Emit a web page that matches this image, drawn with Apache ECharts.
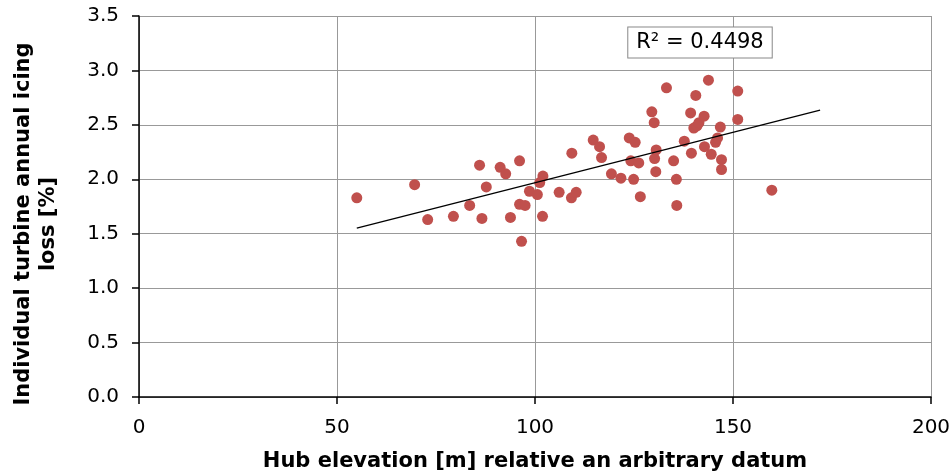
<!DOCTYPE html>
<html>
<head>
<meta charset="utf-8">
<script src="https://cdn.jsdelivr.net/npm/echarts@6/dist/echarts.min.js"></script>
<style>
  html, body { margin: 0; padding: 0; background: #fff; }
  #chart { width: 951px; height: 474px; }
</style>
</head>
<body>
<div id="chart"></div>
<script>
// hub elevation [m] and icing loss [%]
const hubElevation = [
  55.0, 69.6, 72.9, 79.4, 83.5, 86.0, 86.6, 87.7, 91.2, 92.6,
  93.8, 96.1, 96.1, 97.5, 96.6, 98.6, 100.6, 101.9, 102.0, 101.2,
  106.1, 109.2, 110.4, 109.3, 114.7, 116.3, 116.8, 119.3, 121.7, 123.8,
  125.3, 124.2, 126.2, 124.9, 126.6, 130.6, 130.2, 130.5, 129.5, 130.1,
  133.2, 135.0, 135.7, 135.8, 137.7, 139.3, 139.5, 140.1, 140.9, 141.4,
  140.6, 142.7, 142.8, 143.8, 144.5, 145.6, 146.1, 146.8, 147.1, 147.1,
  151.2, 151.2, 159.8
]
const icingLoss = [
  1.83, 1.95, 1.63, 1.66, 1.76, 2.13, 1.64, 1.93, 2.11, 2.05,
  1.65, 2.17, 1.77, 1.76, 1.43, 1.89, 1.86, 1.66, 2.03, 1.97,
  1.88, 1.83, 1.88, 2.24, 2.36, 2.30, 2.20, 2.05, 2.01, 2.38,
  2.34, 2.17, 2.15, 2.00, 1.84, 2.27, 2.19, 2.07, 2.62, 2.52,
  2.84, 2.17, 2.00, 1.76, 2.35, 2.61, 2.24, 2.47, 2.49, 2.52,
  2.77, 2.58, 2.30, 2.91, 2.23, 2.34, 2.38, 2.48, 2.18, 2.09,
  2.81, 2.55, 1.90
]
const xTicks = [0, 50, 100, 150, 200]
const yTicks = [0.0, 0.5, 1.0, 1.5, 2.0, 2.5, 3.0, 3.5]
const rSquaredText = 'R² = 0.4498'
const trendEnd = 172   // trendline is drawn forward past the last point

const points = hubElevation.map((x, i) => [x, icingLoss[i]])

// least squares fit for the trendline
const n = points.length
const mx = hubElevation.reduce((a, b) => a + b, 0) / n
const my = icingLoss.reduce((a, b) => a + b, 0) / n
let sxy = 0, sxx = 0
points.forEach(([x, y]) => {
  sxy += (x - mx) * (y - my)
  sxx += (x - mx) * (x - mx)
})
const slope = sxy / sxx
const intercept = my - slope * mx
const xStart = Math.min(...hubElevation)
const trend = [xStart, trendEnd].map(x => [x, intercept + slope * x])

const font = 'DejaVu Sans'
const chart = echarts.init(document.getElementById('chart'))

chart.setOption({
  animation: false,
  textStyle: { fontFamily: font },
  grid: { left: 139, right: 20, top: 16, bottom: 77, outerBoundsMode: 'none' },
  xAxis: {
    type: 'value',
    min: xTicks[0],
    max: xTicks[xTicks.length - 1],
    interval: 50,
    name: 'Hub elevation [m] relative an arbitrary datum',
    nameLocation: 'middle',
    nameGap: 54,
    nameTextStyle: { fontFamily: font, fontSize: 21, fontWeight: 'bold', color: '#000' },
    axisLine: { show: true, onZero: false, lineStyle: { color: '#000', width: 1.5 } },
    axisTick: { show: true, length: 7, lineStyle: { color: '#000', width: 1.5 } },
    axisLabel: { fontFamily: font, fontSize: 20, color: '#000', margin: 21 },
    splitLine: { show: true, lineStyle: { color: '#999', width: 1 } }
  },
  yAxis: {
    type: 'value',
    min: yTicks[0],
    max: yTicks[yTicks.length - 1],
    interval: 0.5,
    axisLine: { show: true, onZero: false, lineStyle: { color: '#000', width: 1.5 } },
    axisTick: { show: true, length: 7, lineStyle: { color: '#000', width: 1.5 } },
    axisLabel: {
      fontFamily: font, fontSize: 20, color: '#000', margin: 20,
      formatter: v => v.toFixed(1)
    },
    splitLine: { show: true, lineStyle: { color: '#999', width: 1 } }
  },
  graphic: [
    {
      type: 'text',
      x: 36,
      y: 224,
      rotation: Math.PI / 2,
      style: {
        text: 'Individual turbine annual icing\nloss [%]',
        fontFamily: font,
        fontSize: 21,
        fontWeight: 'bold',
        lineHeight: 25,
        fill: '#000',
        align: 'center',
        verticalAlign: 'middle'
      }
    },
    {
      type: 'text',
      x: 700,
      y: 42.5,
      z: 10,
      style: {
        text: rSquaredText,
        fontFamily: font,
        fontSize: 21,
        fill: '#000',
        align: 'center',
        verticalAlign: 'middle',
        backgroundColor: '#fff',
        borderColor: '#888',
        borderWidth: 1,
        padding: [5, 8, 4, 8]
      }
    }
  ],
  series: [
    {
      type: 'scatter',
      data: points,
      symbolSize: 11,
      itemStyle: { color: '#C0504D', opacity: 1 },
      z: 2
    },
    {
      type: 'line',
      data: trend,
      showSymbol: false,
      lineStyle: { color: '#000', width: 1.3 },
      z: 3
    }
  ]
})

window.addEventListener('resize', () => chart.resize())
</script>
</body>
</html>
